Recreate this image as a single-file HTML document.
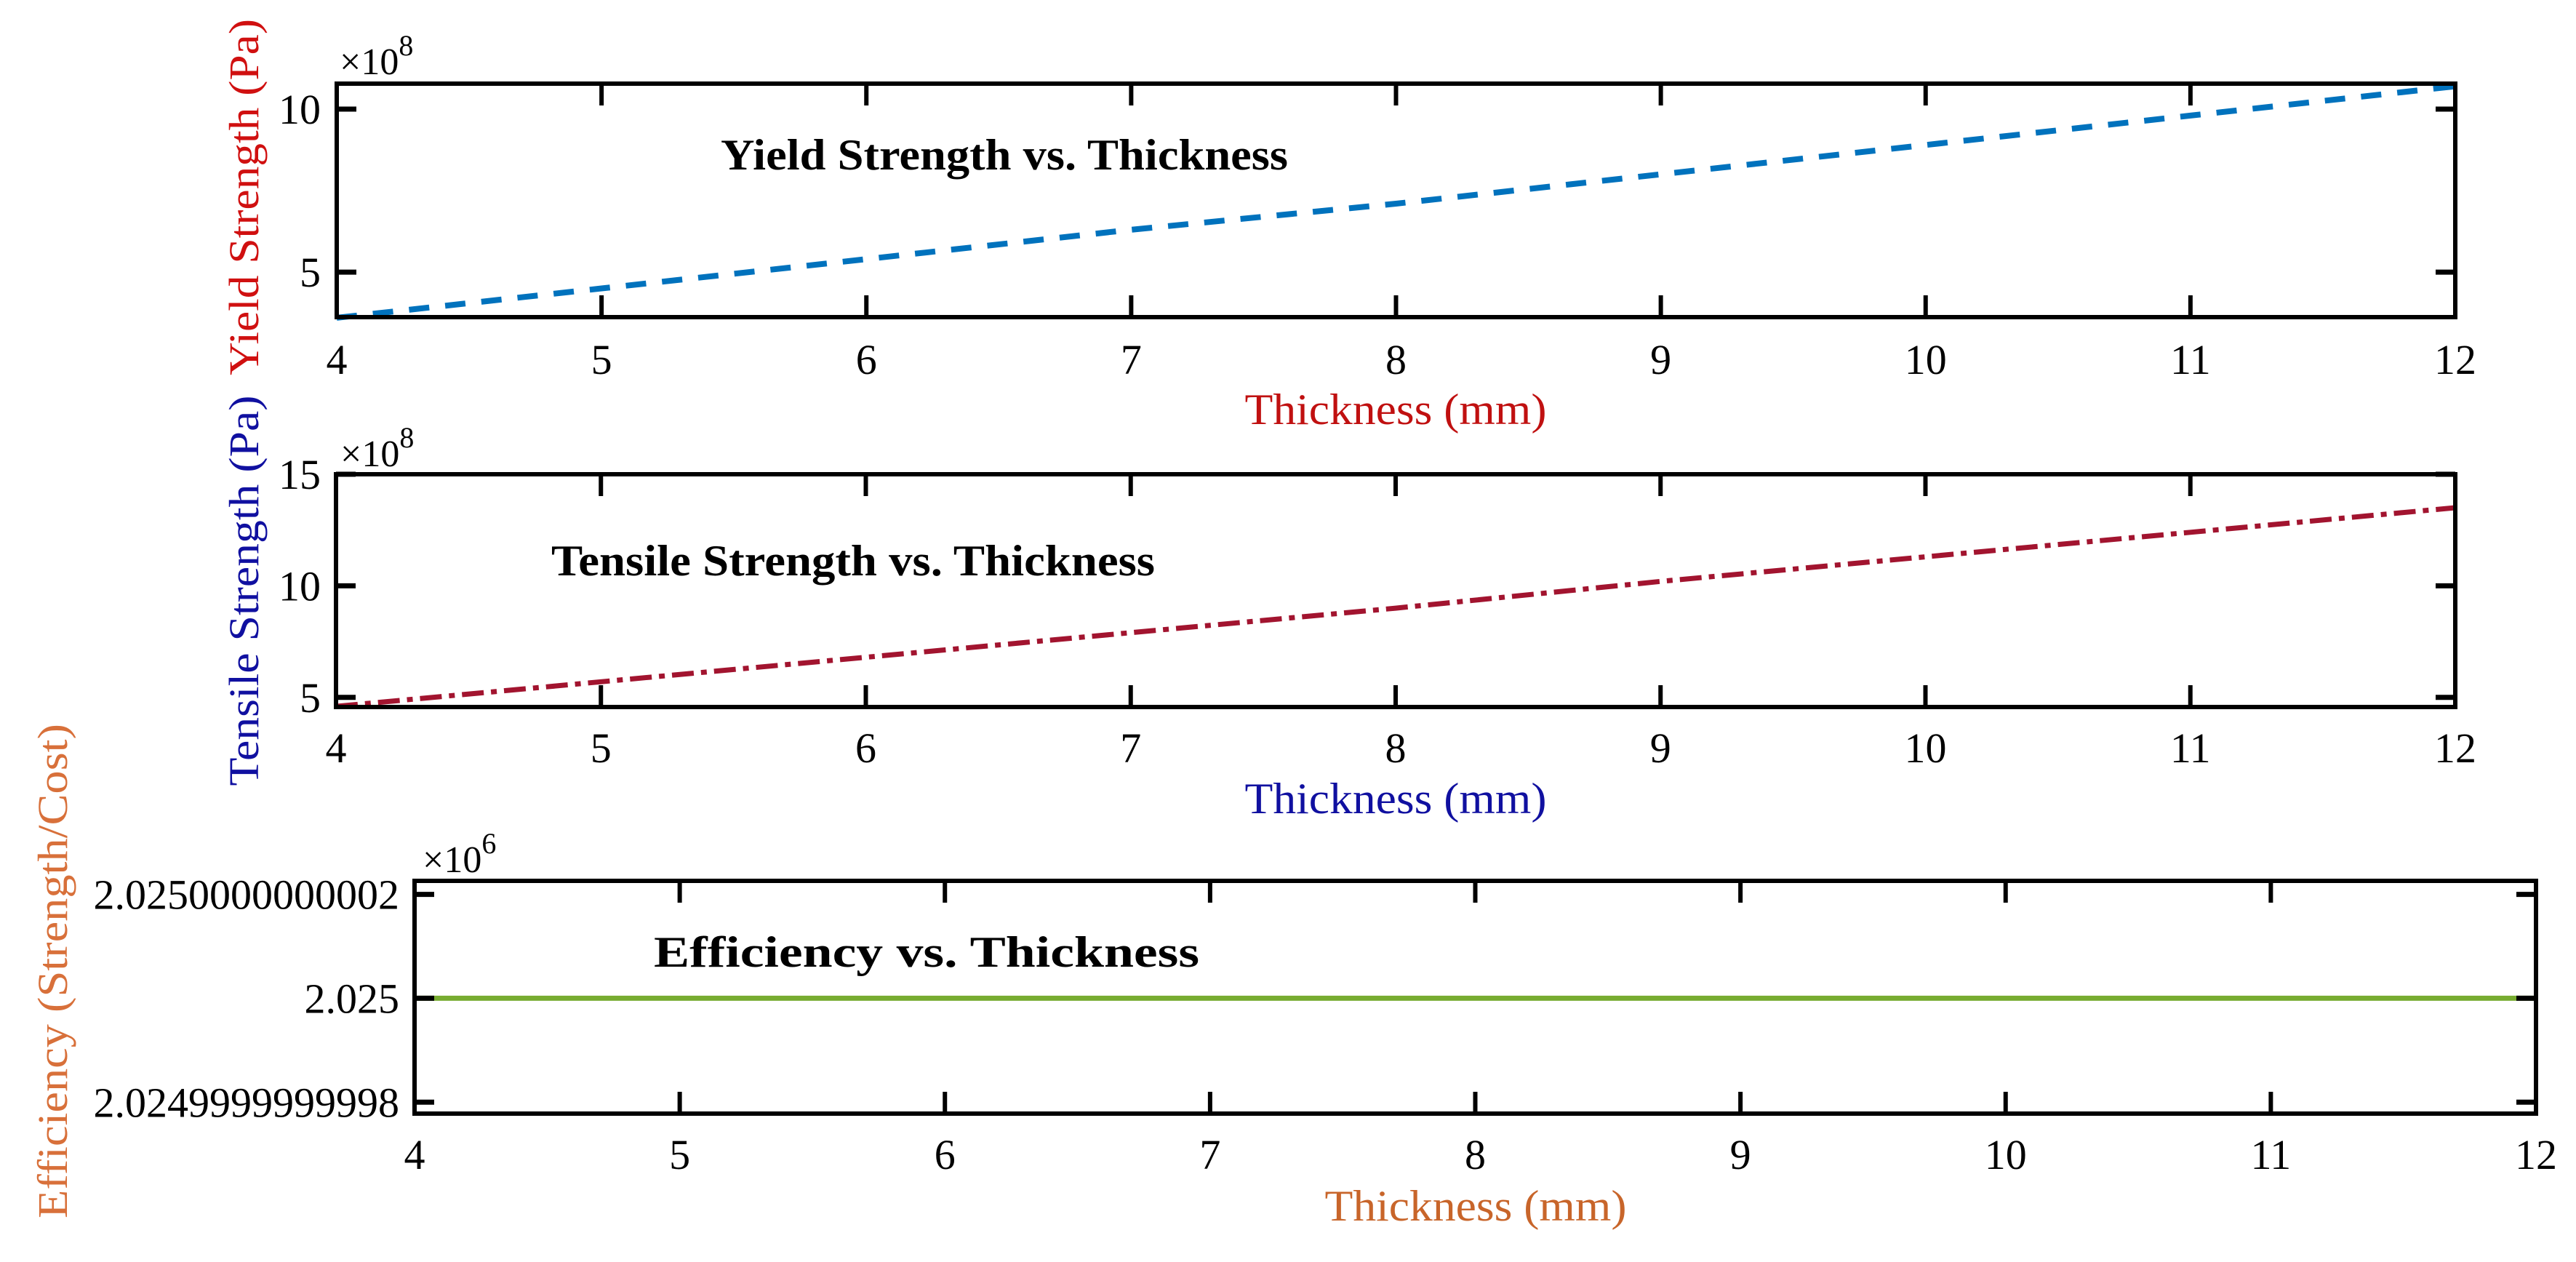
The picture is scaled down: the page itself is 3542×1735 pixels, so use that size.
<!DOCTYPE html>
<html><head><meta charset="utf-8">
<style>
html,body{margin:0;padding:0;background:#fff;}
svg{display:block;}
text{font-family:"Liberation Serif","DejaVu Serif",serif;}
</style></head>
<body>
<svg id="fig" width="3542" height="1735" viewBox="0 0 3542 1735" xmlns="http://www.w3.org/2000/svg"></svg>
<script>
const thickness = [4,5,6,7,8,9,10,11,12];
const yieldVals = [3.6,4.5,5.4,6.3,7.1,8.0,8.9,9.8,10.7];
const tensileVals = [4.6,5.7,6.8,7.9,9.0,10.2,11.3,12.4,13.5];
const efficiencyVals = [0,0,0,0,0,0,0,0,0];
const xTicks = [4,5,6,7,8,9,10,11,12];
const yieldTicks = [5,10];
const tensileTicks = [5,10,15];
const effTicks = [-1,0,1];
const effTickLabels = ["2.0249999999998","2.025","2.0250000000002"];

const NS="http://www.w3.org/2000/svg";
const svg=document.getElementById('fig');
function mk(tag,attrs,parent){const e=document.createElementNS(NS,tag);for(const k in attrs)e.setAttribute(k,attrs[k]);(parent||svg).appendChild(e);return e;}

const panels=[
 {name:'yield',L:463,R:3376,T:115,B:436,ymin:3.62,ymax:10.78,ticks:yieldTicks,labels:null,vals:yieldVals,
  color:'#0072BD',dash:'28 22',width:8,
  exp:'8',expX:467,expY:102,title:'Yield Strength vs. Thickness',tX:991,tY:233,tLen:780,
  ylab:'Yield Strength (Pa)',ylabColor:'#d01010',ylX:355,ylY:271,ylLen:490,
  xlabColor:'#c01010',xlY:583,xlX:1919,xtY:514,tickLx:441},
 {name:'tensile',L:462,R:3376,T:652,B:972,ymin:4.57,ymax:15,ticks:tensileTicks,labels:null,vals:tensileVals,
  color:'#A2142F',dash:'30 10 8 10',width:7,
  exp:'8',expX:468,expY:641,title:'Tensile Strength vs. Thickness',tX:758,tY:791,tLen:830,
  ylab:'Tensile Strength (Pa)',ylabColor:'#1010a0',ylX:355,ylY:812,ylLen:537,
  xlabColor:'#1010a0',xlY:1118,xlX:1919,xtY:1048,tickLx:441},
 {name:'efficiency',L:570,R:3487,T:1211,B:1531,ymin:-1.11,ymax:1.13,ticks:effTicks,labels:effTickLabels,vals:efficiencyVals,
  color:'#77AC30',dash:null,width:7,
  exp:'6',expX:581,expY:1199,title:'Efficiency vs. Thickness',tX:899,tY:1329,tLen:750,
  ylab:'Efficiency (Strength/Cost)',ylabColor:'#d8703a',ylX:92,ylY:1335,ylLen:680,
  xlabColor:'#c8652a',xlY:1678,xlX:2029,xtY:1607,tickLx:549}
];

panels.forEach(p=>{
  const g=mk('g',{});
  
  
  const sx=v=>p.L+(v-4)/(12-4)*(p.R-p.L);
  const sy=v=>p.B-(v-p.ymin)/(p.ymax-p.ymin)*(p.B-p.T);
  // series
  const d=p.vals.map((v,i)=>(i?'L':'M')+sx(thickness[i]).toFixed(1)+' '+sy(v).toFixed(1)).join(' ');
  const line=mk('path',{d:d,fill:'none',stroke:p.color,'stroke-width':p.width},g);
  if(p.dash) line.setAttribute('stroke-dasharray',p.dash);
  
  
  // frame
  const fr=mk('rect',{x:p.L,y:p.T,width:p.R-p.L,height:p.B-p.T,fill:'none',stroke:'#000','stroke-width':6},g);
  
  
  // x ticks
  xTicks.forEach(t=>{
    const x=sx(t);
    mk('line',{x1:x,x2:x,y1:p.B,y2:p.B-30,stroke:'#000','stroke-width':6},g);
    mk('line',{x1:x,x2:x,y1:p.T,y2:p.T+30,stroke:'#000','stroke-width':6},g);
    const tl=mk('text',{x:x,y:p.xtY,'font-size':58,'text-anchor':'middle',fill:'#000'},g);
    tl.textContent=t;
    
    
  });
  // y ticks
  p.ticks.forEach((t,i)=>{
    const y=sy(t);
    mk('line',{x1:p.L,x2:p.L+27,y1:y,y2:y,stroke:'#000','stroke-width':7},g);
    mk('line',{x1:p.R,x2:p.R-27,y1:y,y2:y,stroke:'#000','stroke-width':7},g);
    const tl=mk('text',{x:p.tickLx,y:y+20,'font-size':58,'text-anchor':'end',fill:'#000'},g);
    tl.textContent=p.labels?p.labels[i]:t;
    
    
  });
  // exponent
  const ex=mk('text',{x:p.expX,y:p.expY,'font-size':52,fill:'#000'},g);
  ex.innerHTML='×10<tspan dy="-26" font-size="40">'+p.exp+'</tspan>';
  
  
  // title
  const ti=mk('text',{x:p.tX,y:p.tY,'font-size':60,'font-weight':'bold',fill:'#000',textLength:p.tLen,lengthAdjust:'spacingAndGlyphs'},g);
  ti.textContent=p.title;
  
  
  // x label
  const xl=mk('text',{x:p.xlX,y:p.xlY,'font-size':60,'text-anchor':'middle',fill:p.xlabColor,textLength:415,lengthAdjust:'spacingAndGlyphs'},g);
  xl.textContent='Thickness (mm)';
  
  
  // y label
  const yl=mk('text',{x:0,y:0,'font-size':58,'text-anchor':'middle',fill:p.ylabColor,textLength:p.ylLen,lengthAdjust:'spacingAndGlyphs',transform:'translate('+p.ylX+','+p.ylY+') rotate(-90)'},g);
  yl.textContent=p.ylab;
  
  
});
</script>
</body></html>
